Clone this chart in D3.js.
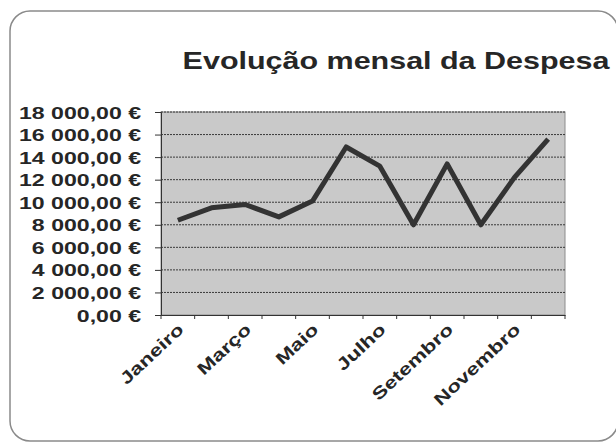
<!DOCTYPE html>
<html>
<head>
<meta charset="utf-8">
<script src="https://cdn.jsdelivr.net/npm/d3@7"></script>
<style>
  body { margin: 0; background: #fff; }
  text { font-family: "Liberation Sans", Arial, sans-serif; font-weight: bold; fill: #262626; }
</style>
</head>
<body>
<svg width="616" height="443"></svg>
<script>
const months = ["Janeiro", "Fevereiro", "Março", "Abril", "Maio", "Junho",
                "Julho", "Agosto", "Setembro", "Outubro", "Novembro", "Dezembro"];
const despesa = [8400, 9500, 9800, 8700, 10100, 14900, 13200, 8000, 13400, 8000, 12200, 15600];
const yTicks = [0, 2000, 4000, 6000, 8000, 10000, 12000, 14000, 16000, 18000];
const title = "Evolução mensal da Despesa";

const svg = d3.select('svg');
const width = parseInt(svg.attr('width'));
const height = parseInt(svg.attr('height'));

// scanned picture looks stretched sideways
const stretch = 1.4;

const margin = { top: 112, right: 51, bottom: 128, left: 161 };
const innerWidth = width - margin.left - margin.right;
const innerHeight = height - margin.top - margin.bottom;

const locale = d3.formatLocale({ decimal: ",", thousands: " ", grouping: [3], currency: ["", " €"] });
const fmt = locale.format("$,.2f");

// outer chart frame
svg.append('rect')
  .attr('x', 10).attr('y', 11)
  .attr('width', 608).attr('height', 430)
  .attr('rx', 20)
  .attr('fill', '#fff')
  .attr('stroke', '#8a8a8a')
  .attr('stroke-width', 1.5);

svg.append('text')
  .attr('transform', `translate(396,69) scale(1.27,1)`)
  .attr('text-anchor', 'middle')
  .style('font-size', '24px')
  .text(title);

const xScale = d3.scaleBand()
  .domain(months)
  .range([0, innerWidth]);

const yScale = d3.scaleLinear()
  .domain([0, 18000])
  .range([innerHeight, 0]);

const g = svg.append('g')
  .attr('transform', `translate(${margin.left},${margin.top})`);

g.append('rect')
  .attr('width', innerWidth)
  .attr('height', innerHeight)
  .attr('fill', '#c9c9c9')
  .attr('stroke', '#8c8c8c');

// grid
g.selectAll('.grid').data(yTicks.slice(1))
  .enter().append('line')
    .attr('class', 'grid')
    .attr('x1', 0).attr('x2', innerWidth)
    .attr('y1', d => yScale(d)).attr('y2', d => yScale(d))
    .attr('stroke', '#3a3a3a')
    .attr('stroke-width', 1)
    .attr('stroke-dasharray', '2,1');

const yAxis = d3.axisLeft(yScale)
  .tickValues(yTicks)
  .tickSize(6)
  .tickPadding(14)
  .tickFormat(fmt);

const yAxisG = g.append('g').call(yAxis);
yAxisG.select('.domain').attr('stroke', '#333');
yAxisG.selectAll('line').attr('stroke', '#333');
yAxisG.selectAll('text')
  .style('font-size', '16.5px')
  .attr('x', null)
  .attr('dy', null)
  .attr('transform', `translate(-20,6) scale(${stretch},1)`);

const xAxis = d3.axisBottom(xScale)
  .tickSize(0)
  .tickFormat((d, i) => i % 2 === 0 ? d : '');

const xAxisG = g.append('g').call(xAxis)
  .attr('transform', `translate(0,${innerHeight})`);
xAxisG.select('.domain').attr('stroke', '#333');
xAxisG.selectAll('text')
  .style('font-size', '17px')
  .attr('text-anchor', 'end')
  .attr('y', null)
  .attr('dy', null)
  .attr('transform', `translate(7,16) rotate(-43) scale(1.32,1)`);

// tick marks between categories
xAxisG.selectAll('.sep').data(months.concat(['end']))
  .enter().append('line')
    .attr('class', 'sep')
    .attr('x1', (d, i) => i * xScale.step())
    .attr('x2', (d, i) => i * xScale.step())
    .attr('y1', 0).attr('y2', 4)
    .attr('stroke', '#333');

const line = d3.line()
  .x((d, i) => xScale(months[i]) + xScale.bandwidth() / 2)
  .y(d => yScale(d));

g.append('path')
  .datum(despesa)
  .attr('d', line)
  .attr('fill', 'none')
  .attr('stroke', '#333')
  .attr('stroke-width', 5)
  .attr('stroke-linejoin', 'round');
</script>
</body>
</html>
